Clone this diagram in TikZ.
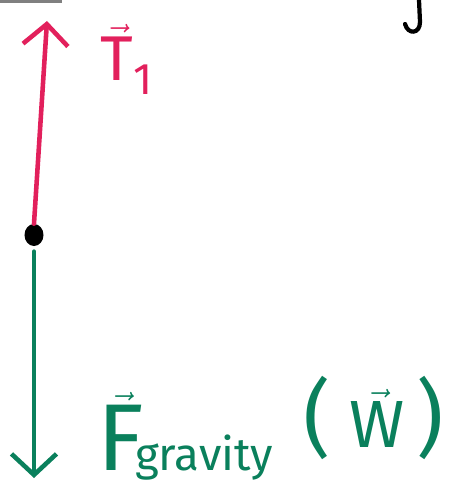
\documentclass[tikz,border=0pt]{standalone}
\usepackage{amsmath}
\usepackage{fontspec}
\setmainfont{Fira Sans}
\usepackage{tikz}
\usetikzlibrary{shapes.geometric, arrows.meta, positioning}

\definecolor{tensionred}{RGB}{226,32,92}
\definecolor{gravgreen}{RGB}{10,128,92}

\newcommand{\bigparen}[1]{{\fontsize{48}{52}\selectfont #1}}

\begin{document}
\begin{tikzpicture}[
    force/.style={line width=2.6pt, line cap=round, -{Straight Barb[length=0.42cm, width=0.9cm, line width=2.6pt]}},
    mass/.style={ellipse, fill=black, minimum width=0.38cm, minimum height=0.44cm, inner sep=0pt},
    bigsym/.style={inner sep=0pt, font=\fontsize{36}{40}\selectfont},
    sub/.style={inner sep=0pt, font=\fontsize{26}{30}\selectfont}
]
\useasboundingbox (0,0) rectangle (8.98,-9.9);

% Body and force arrows
\node[mass] (body) at (0.68,-4.7) {};
\coordinate (ttip) at (0.94,-0.42);
\coordinate (gtip) at (0.68,-9.56);

\draw[force, tensionred] (body.north) -- (ttip);
\draw[force, gravgreen, shorten <=3pt] (body.south) -- (gtip);

% Labels
\node[bigsym, text=tensionred, anchor=base west] (tlab) at (2.0,-1.6) {$\vec{\text{T}}_{\text{1}}$};
\node[inner sep=0pt, text=gravgreen, font=\fontsize{54}{60}\selectfont, anchor=base west] (flab) at (1.95,-9.4) {$\vec{\text{F}}$};
\node[sub, text=gravgreen, anchor=base west, xshift=-0.2cm] (grav) at (flab.base east) {gravity};
\node[inner sep=0pt, text=gravgreen, font=\fontsize{38}{42}\selectfont, anchor=base west, xshift=0.6cm, yshift=0.45cm] (wlab) at (grav.base east) {\bigparen{(}\;$\vec{\text{W}}$\,\bigparen{)}};

% Cut-off strokes at the top edge
\draw[gray, line width=2pt] (0,-0.02) -- (1.24,-0.02);
\draw[black, line width=2.4pt, line cap=round] (8.38,0) -- (8.4,-0.44) .. controls (8.4,-0.68) and (8.16,-0.7) .. (8.1,-0.48);
\end{tikzpicture}
\end{document}
